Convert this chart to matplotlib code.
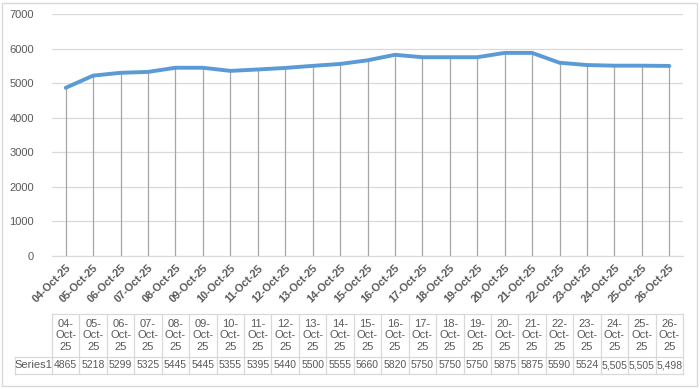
import numpy as np
import matplotlib
matplotlib.use("Agg")
import matplotlib.pyplot as plt
from matplotlib.patches import Rectangle

plt.rcParams["font.family"] = ["Liberation Sans", "DejaVu Sans"]

# 数据
dates = ["04-Oct-25", "05-Oct-25", "06-Oct-25", "07-Oct-25", "08-Oct-25", "09-Oct-25",
         "10-Oct-25", "11-Oct-25", "12-Oct-25", "13-Oct-25", "14-Oct-25", "15-Oct-25",
         "16-Oct-25", "17-Oct-25", "18-Oct-25", "19-Oct-25", "20-Oct-25", "21-Oct-25",
         "22-Oct-25", "23-Oct-25", "24-Oct-25", "25-Oct-25", "26-Oct-25"]
series1 = [4865, 5218, 5299, 5325, 5445, 5445, 5355, 5395, 5440, 5500, 5555, 5660,
           5820, 5750, 5750, 5750, 5875, 5875, 5590, 5524, 5505, 5505, 5498]
table_labels = ["4865", "5218", "5299", "5325", "5445", "5445", "5355", "5395", "5440",
                "5500", "5555", "5660", "5820", "5750", "5750", "5750", "5875", "5875",
                "5590", "5524", "5,505", "5,505", "5,498"]
series_name = "Series1"
yticks = [0, 1000, 2000, 3000, 4000, 5000, 6000, 7000]

W, H = 700, 389
txt_color = "#595959"
grid_color = "#D9D9D9"
line_color = "#5B9BD5"

fig = plt.figure(figsize=(W / 100, H / 100), dpi=100)
fig.patches.append(Rectangle((2 / W, 3 / H), 695 / W, 383 / H, transform=fig.transFigure,
                             fill=False, edgecolor=grid_color, linewidth=1))

# 绘图区 (像素: x 52-683, y 14-256)
left, right, top, bottom = 52, 683, 14, 256
ax = fig.add_axes([left / W, 1 - bottom / H, (right - left) / W, (bottom - top) / H])

x = np.arange(len(dates))
ax.vlines(x, 0, series1, color="#A6A6A6", linewidth=0.9, zorder=2)
ax.plot(x, series1, color=line_color, linewidth=2.8, solid_capstyle="round", zorder=3)

ax.set_xlim(-0.5, len(dates) - 0.5)
ax.set_ylim(0, 7000)
ax.set_yticks(yticks)
ax.set_yticklabels([str(v) for v in yticks], fontsize=8, color=txt_color)
ax.yaxis.grid(True, color=grid_color, linewidth=0.9)
ax.set_axisbelow(True)
for s in ["top", "right", "left"]:
    ax.spines[s].set_visible(False)
ax.spines["bottom"].set_color(grid_color)
ax.tick_params(axis="both", length=0)
ax.tick_params(axis="y", pad=13)

ax.set_xticks(x)
ax.set_xticklabels(dates, rotation=45, ha="right", rotation_mode="anchor",
                   fontsize=7.8, fontweight="bold", color=txt_color)
ax.tick_params(axis="x", pad=5)

# 数据表
tr = ax.get_xaxis_transform()
ph = bottom - top


def ya(ypx):
    return (bottom - ypx) / ph


t_top, t_mid, t_bot = ya(314), ya(357), ya(374)
lbl_left = (15 - left) / ((right - left) / len(dates)) - 0.5
kw = dict(transform=tr, clip_on=False, color=grid_color, linewidth=0.9)
ax.plot([-0.5, len(dates) - 0.5], [t_top, t_top], **kw)
ax.plot([lbl_left, len(dates) - 0.5], [t_mid, t_mid], **kw)
ax.plot([lbl_left, len(dates) - 0.5], [t_bot, t_bot], **kw)
ax.plot([lbl_left, lbl_left], [t_mid, t_bot], **kw)
for i in range(len(dates) + 1):
    ax.plot([i - 0.5, i - 0.5], [t_top, t_bot], **kw)

for i, d in enumerate(dates):
    dd, mm, yy = d.split("-")
    ax.text(i, (t_top + t_mid) / 2, f"{dd}-\n{mm}-\n{yy}", transform=tr, ha="center",
            va="center", fontsize=8, color=txt_color, linespacing=1.2, clip_on=False)
    ax.text(i, (t_mid + t_bot) / 2, table_labels[i], transform=tr, ha="center",
            va="center", fontsize=7.5, color=txt_color, clip_on=False)
ax.text((lbl_left - 0.5) / 2, (t_mid + t_bot) / 2, series_name, transform=tr,
        ha="center", va="center", fontsize=8, color=txt_color, clip_on=False)

fig.savefig("out.png", dpi=100)
